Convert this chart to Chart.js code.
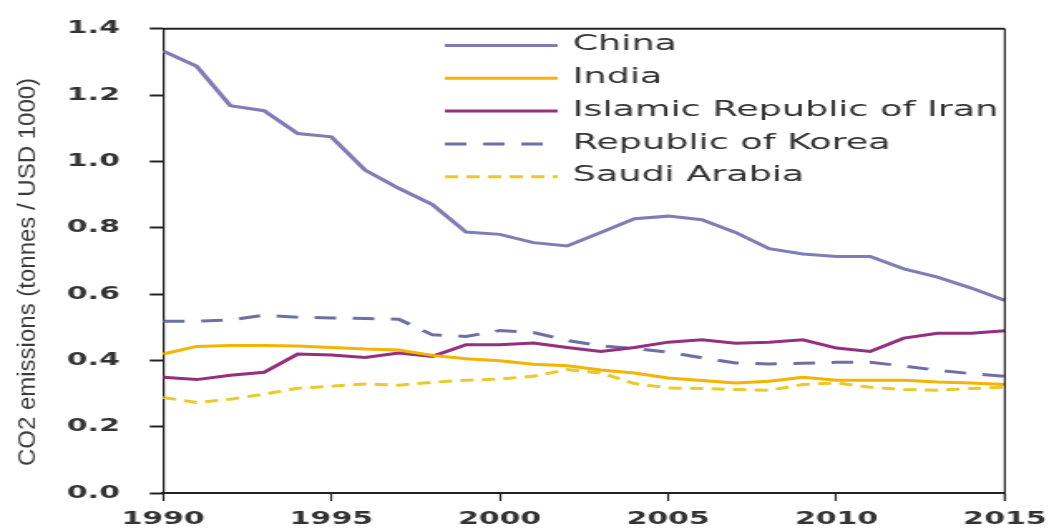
<!DOCTYPE html>
<html>
<head>
<meta charset="utf-8">
<script src="https://cdn.jsdelivr.net/npm/chart.js@4"></script>
<style>
  body { margin: 0; background: #fff; }
</style>
</head>
<body>
<canvas id="grafico" width="635" height="531" style="display:block;width:1054px;height:531px"></canvas>
<script>
// the source picture is stretched sideways, so the canvas is drawn narrow and shown wide
const ESTICAR = 1054 / 635;

let anos = [];
for (let a = 1990; a <= 2015; a++) anos.push(a);

const china = [1.333, 1.287, 1.168, 1.153, 1.084, 1.074, 0.974, 0.919, 0.870, 0.787, 0.780, 0.755, 0.745,
  0.786, 0.827, 0.835, 0.824, 0.786, 0.737, 0.721, 0.713, 0.713, 0.676, 0.651, 0.618, 0.581];
const india = [0.419, 0.442, 0.445, 0.445, 0.443, 0.439, 0.434, 0.431, 0.415, 0.405, 0.399, 0.388, 0.384,
  0.371, 0.362, 0.347, 0.339, 0.332, 0.337, 0.349, 0.340, 0.340, 0.340, 0.335, 0.332, 0.327];
const iran = [0.349, 0.342, 0.355, 0.364, 0.419, 0.416, 0.409, 0.422, 0.412, 0.447, 0.447, 0.452, 0.439,
  0.427, 0.439, 0.455, 0.462, 0.452, 0.455, 0.462, 0.437, 0.427, 0.467, 0.482, 0.482, 0.489];
const coreia = [0.518, 0.518, 0.522, 0.536, 0.530, 0.528, 0.526, 0.524, 0.477, 0.472, 0.490, 0.484, 0.460,
  0.444, 0.436, 0.425, 0.408, 0.392, 0.389, 0.391, 0.394, 0.394, 0.383, 0.370, 0.360, 0.352];
const arabia = [0.288, 0.273, 0.283, 0.298, 0.316, 0.322, 0.329, 0.325, 0.334, 0.340, 0.344, 0.352, 0.372,
  0.362, 0.330, 0.317, 0.315, 0.312, 0.310, 0.327, 0.332, 0.319, 0.312, 0.310, 0.315, 0.319];

const nomes = ["China", "India", "Islamic Republic of Iran", "Republic of Korea", "Saudi Arabia"];
const tituloY = "CO2 emissions (tonnes / USD 1000)";
const ticksX = [1990, 1995, 2000, 2005, 2010, 2015];

function pontos(valores) {
  return valores.map((v, i) => ({ x: anos[i], y: v }));
}

function serie(nome, valores, cor, tracejado) {
  return {
    label: nome,
    data: pontos(valores),
    borderColor: cor,
    backgroundColor: cor,
    borderWidth: 3,
    borderDash: tracejado,
    pointRadius: 0,
    tension: 0,
    fill: false,
  };
}

// caixa em volta do grafico, legenda e titulo do eixo y
const extras = {
  id: "extras",
  afterDraw(chart) {
    const c = chart.ctx;
    const area = chart.chartArea;
    c.save();
    c.strokeStyle = "#222";
    c.lineWidth = 2;
    c.beginPath();
    c.moveTo(area.left, area.top);
    c.lineTo(area.right, area.top);
    c.stroke();
    c.lineWidth = 1.2;
    c.beginPath();
    c.moveTo(area.right, area.top);
    c.lineTo(area.right, area.bottom + 8);
    c.stroke();

    let y = 45.5;
    chart.data.datasets.forEach((ds) => {
      c.strokeStyle = ds.borderColor;
      c.lineWidth = 3;
      c.setLineDash(ds.borderDash || []);
      c.beginPath();
      c.moveTo(268, y);
      c.lineTo(336, y);
      c.stroke();
      c.setLineDash([]);
      c.fillStyle = "#333";
      c.font = '22px "DejaVu Sans"';
      c.textBaseline = "middle";
      c.textAlign = "left";
      c.fillText(ds.label, 345, y - 1);
      y += 32.8;
    });
    c.restore();

    c.save();
    c.scale(1 / ESTICAR, 1);
    c.translate(29, 272);
    c.rotate(-Math.PI / 2);
    c.fillStyle = "#3c3c3c";
    c.font = '24px "Liberation Sans"';
    c.textAlign = "center";
    c.textBaseline = "middle";
    c.fillText(tituloY, 0, 0);
    c.restore();
  },
};

let ctx = document.getElementById("grafico").getContext("2d");

let meuGrafico = new Chart(ctx, {
  type: "line",
  data: {
    datasets: [
      serie(nomes[0], china, "#7f7cb6", []),
      serie(nomes[1], india, "#f4b400", []),
      serie(nomes[2], iran, "#962f7e", []),
      serie(nomes[3], coreia, "#6c70a4", [13, 10]),
      serie(nomes[4], arabia, "#e9c92c", [8, 5]),
    ],
  },
  options: {
    responsive: false,
    animation: false,
    devicePixelRatio: 1,
    layout: { padding: { top: 23.5, right: 29.6, left: 0, bottom: 0 } },
    plugins: {
      legend: { display: false },
      tooltip: { enabled: false },
    },
    scales: {
      x: {
        type: "linear",
        min: 1990,
        max: 2015,
        afterFit: (s) => {
          s.height = 38;
          s.paddingLeft = 0;
          s.paddingRight = 0;
        },
        afterBuildTicks: (s) => { s.ticks = ticksX.map((v) => ({ value: v })); },
        border: { display: true, color: "#222", width: 2 },
        grid: { drawOnChartArea: false, drawTicks: true, tickLength: 8, color: "#222", tickWidth: 1.2 },
        ticks: {
          padding: 8,
          maxRotation: 0,
          color: "#333",
          font: { family: "DejaVu Sans", size: 18, weight: "bold" },
          callback: (v) => String(v),
        },
      },
      y: {
        min: 0,
        max: 1.4,
        afterFit: (s) => { s.width = 98.2; },
        border: { display: true, color: "#222", width: 1.2 },
        grid: { drawOnChartArea: false, drawTicks: true, tickLength: 8, color: "#222", tickWidth: 2 },
        ticks: {
          stepSize: 0.2,
          padding: 18,
          color: "#333",
          font: { family: "DejaVu Sans", size: 18, weight: "bold" },
          callback: (v) => v.toFixed(1),
        },
      },
    },
  },
  plugins: [extras],
});
</script>
</body>
</html>
